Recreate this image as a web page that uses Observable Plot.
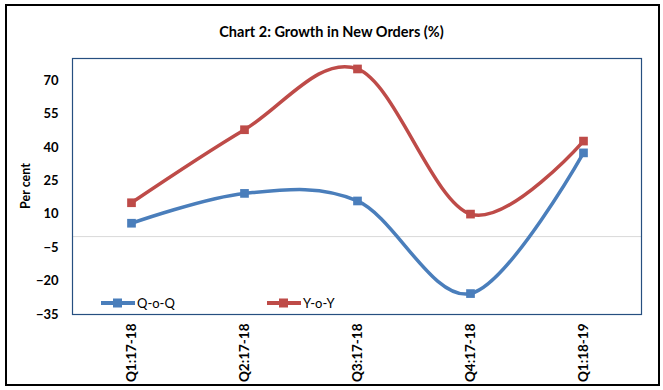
<!DOCTYPE html>
<html>
<head>
<meta charset="utf-8">
<script src="https://cdn.jsdelivr.net/npm/d3@7"></script>
<script src="https://cdn.jsdelivr.net/npm/@observablehq/plot@0.6"></script>
<style>
  html, body { margin: 0; padding: 0; background: #fff; }
  #wrap { position: relative; width: 663px; height: 390px; overflow: hidden; font-family: Lato, "Open Sans", sans-serif; }
  #border { position: absolute; left: 5px; top: 4px; width: 651px; height: 378px; border: 2px solid #000; pointer-events: none; }
  #title { position: absolute; left: 0; width: 663px; top: 23px; text-align: center; font-weight: bold; font-size: 14.5px; color: #000; }
  #ylab { position: absolute; left: 25px; top: 186px; transform: translate(-50%, -50%) rotate(-90deg); font-weight: bold; font-size: 12.5px; white-space: nowrap; }
  .leg { position: absolute; top: 295px; height: 16px; display: flex; align-items: center; font-size: 13px; color: #000; }
  #chart { position: absolute; left: 0; top: 0; }
</style>
</head>
<body>
<div id="wrap">
  <div id="chart"></div>
  <div id="title">Chart 2: Growth in New Orders (%)</div>
  <div id="ylab">Per cent</div>
  <div id="legend"></div>
  <div id="border"></div>
</div>
<script>
const quarters = ["Q1:17-18", "Q2:17-18", "Q3:17-18", "Q4:17-18", "Q1:18-19"];
const qoq = [6.0, 19.4, 16.0, -25.6, 37.6];
const yoy = [15.2, 48.0, 75.3, 10.1, 42.9];
const yTicks = [-35, -20, -5, 10, 25, 40, 55, 70];
const seriesNames = ["Q-o-Q", "Y-o-Y"];
const seriesColors = ["#4a7ebb", "#be4b48"];

const rows = [];
quarters.forEach((q, i) => {
  rows.push({quarter: q, value: qoq[i], series: seriesNames[0]});
  rows.push({quarter: q, value: yoy[i], series: seriesNames[1]});
});

const plot = Plot.plot({
  width: 663,
  height: 390,
  marginLeft: 72,
  marginRight: 22,
  marginTop: 58,
  marginBottom: 76,
  style: {fontFamily: "Lato, 'Open Sans', sans-serif", fontSize: "13px", color: "#000", background: "transparent"},
  x: {type: "point", domain: quarters, padding: 0.5},
  y: {domain: [-35, 80]},
  color: {domain: seriesNames, range: seriesColors},
  marks: [
    Plot.ruleY([0], {stroke: "#d9d9d9", strokeWidth: 1}),
    Plot.frame({stroke: "#264f80", strokeWidth: 1.2}),
    Plot.axisY({ticks: yTicks, tickSize: 0, tickPadding: 14, fontWeight: "bold", label: null}),
    Plot.axisX({tickSize: 0, tickRotate: -90, tickPadding: 9, fontWeight: "bold", fontSize: 13.5, label: null}),
    Plot.line(rows, {x: "quarter", y: "value", z: "series", stroke: "series", strokeWidth: 3.5, curve: "cardinal"}),
    Plot.dot(rows, {x: "quarter", y: "value", fill: "series", symbol: "square", r: 4.9})
  ]
});
document.getElementById("chart").appendChild(plot);

// legend
const legend = document.getElementById("legend");
const legLefts = [101, 267];
seriesNames.forEach((name, i) => {
  const item = document.createElement("div");
  item.className = "leg";
  item.style.left = legLefts[i] + "px";
  item.innerHTML = `<svg width="34" height="16" style="margin-right:2px"><line x1="0" x2="34" y1="8" y2="8" stroke="${seriesColors[i]}" stroke-width="4"/><rect x="12" y="3.5" width="9" height="9" fill="${seriesColors[i]}"/></svg><span>${name}</span>`;
  legend.appendChild(item);
});
</script>
</body>
</html>
